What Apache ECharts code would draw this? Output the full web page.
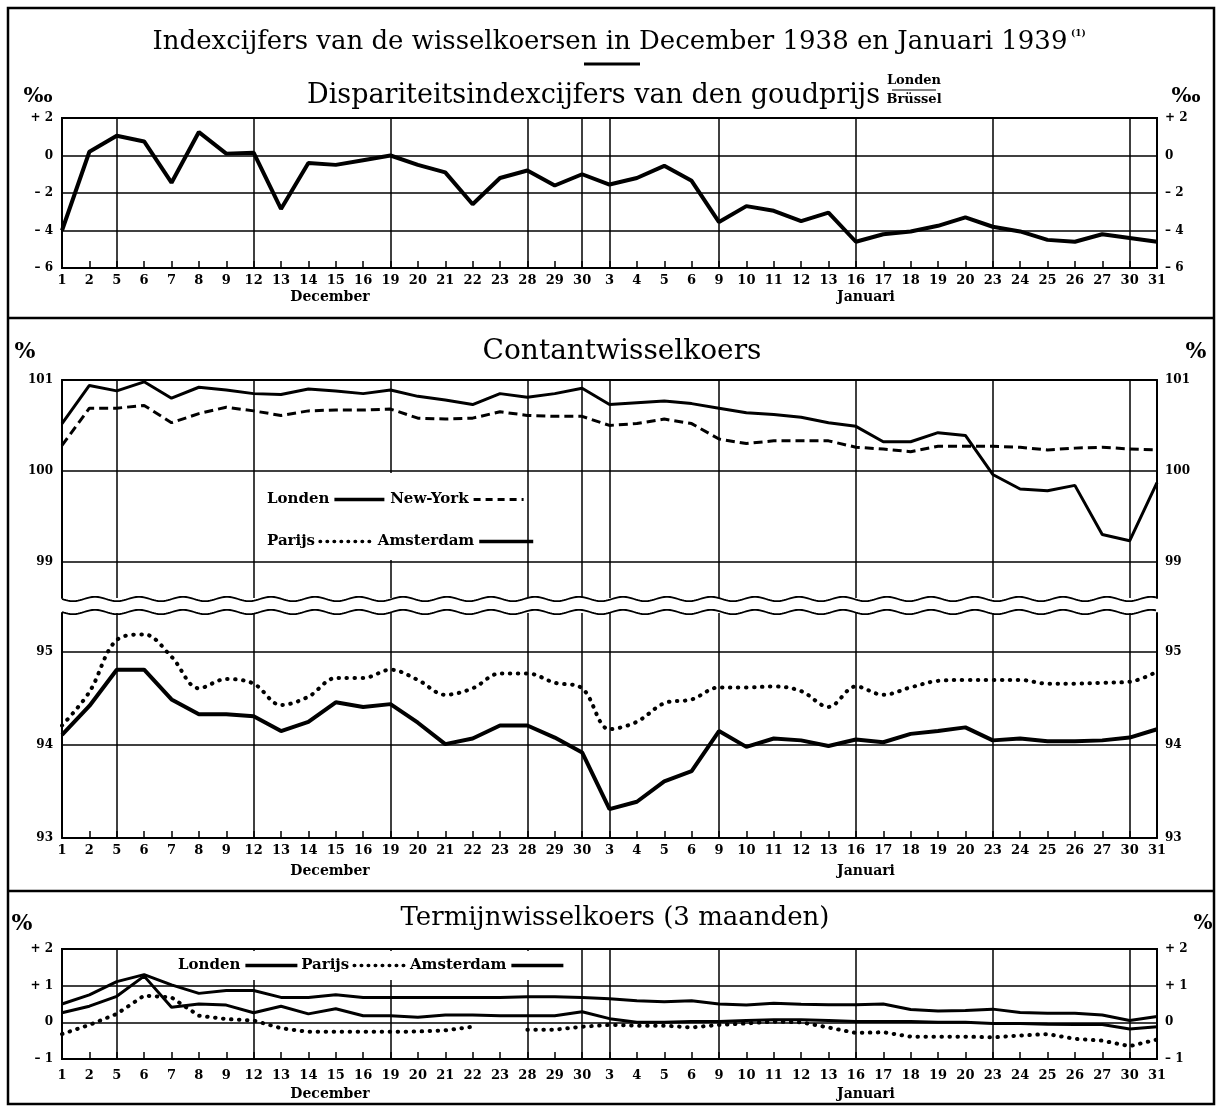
<!DOCTYPE html>
<html><head><meta charset="utf-8">
<script src="https://cdn.jsdelivr.net/npm/echarts@6.0.0/dist/echarts.min.js"></script>
<style>html,body{margin:0;padding:0;background:#fff}#c{width:1221px;height:1109px}</style>
</head><body><div id="c"></div>
<script>
// ---- categories (trading days) ----
const decDays = [1,2,5,6,7,8,9,12,13,14,15,16,19,20,21,22,23,28,29,30];
const janDays = [3,4,5,6,9,10,11,12,13,16,17,18,19,20,23,24,25,26,27,30,31];
const categories = decDays.map(d => 'Dec ' + d).concat(janDays.map(d => 'Jan ' + d));
const weekStarts = ['Dec 5','Dec 12','Dec 19','Dec 28','Dec 30','Jan 3','Jan 9','Jan 16','Jan 23','Jan 30'];

// ---- Dispariteitsindexcijfers van den goudprijs Londen/Brussel (per mille) ----
const goudDisparity = [-4.0,0.2,1.05,0.75,-1.45,1.25,0.1,0.15,-2.85,-0.4,-0.5,-0.25,0.0,-0.5,-0.9,-2.6,-1.2,-0.8,-1.6,-1.0,
  -1.55,-1.2,-0.55,-1.35,-3.55,-2.7,-2.95,-3.5,-3.05,-4.6,-4.2,-4.05,-3.75,-3.3,-3.8,-4.05,-4.5,-4.6,-4.2,-4.4,-4.6];

// ---- Contantwisselkoers (%) ----
const contantLonden = [100.52,100.94,100.88,100.98,100.8,100.92,100.89,100.85,100.84,100.9,100.88,100.85,100.89,100.82,100.78,100.73,100.85,100.81,100.85,100.91,
  100.73,100.75,100.77,100.74,100.69,100.64,100.62,100.59,100.53,100.49,100.32,100.32,100.42,100.39,99.96,99.8,99.78,99.84,99.3,99.23,99.87];
const contantNewYork = [100.28,100.69,100.69,100.72,100.53,100.63,100.7,100.66,100.61,100.66,100.67,100.67,100.68,100.58,100.57,100.58,100.65,100.61,100.6,100.6,
  100.5,100.52,100.57,100.52,100.35,100.3,100.33,100.33,100.33,100.26,100.24,100.21,100.27,100.27,100.27,100.26,100.23,100.25,100.26,100.24,100.23];
const contantParijs = [94.21,94.57,95.13,95.19,94.95,94.61,94.71,94.66,94.43,94.52,94.72,94.72,94.81,94.7,94.54,94.61,94.77,94.77,94.67,94.61,
  94.17,94.25,94.45,94.49,94.62,94.62,94.63,94.58,94.41,94.63,94.54,94.62,94.69,94.7,94.7,94.7,94.66,94.66,94.67,94.68,94.79];
const contantAmsterdam = [94.11,94.42,94.81,94.81,94.49,94.33,94.33,94.31,94.15,94.25,94.46,94.41,94.44,94.24,94.01,94.07,94.21,94.21,94.08,93.92,
  93.31,93.39,93.61,93.72,94.15,93.98,94.07,94.05,93.99,94.06,94.03,94.12,94.15,94.19,94.05,94.07,94.04,94.04,94.05,94.08,94.17];

// ---- Termijnwisselkoers 3 maanden (%) ----
const termijnLonden = [0.5,0.75,1.11,1.3,1.02,0.79,0.87,0.87,0.68,0.68,0.75,0.68,0.68,0.68,0.68,0.68,0.68,0.7,0.7,0.68,
  0.64,0.59,0.56,0.59,0.5,0.47,0.52,0.49,0.48,0.48,0.5,0.35,0.31,0.32,0.36,0.27,0.25,0.25,0.2,0.05,0.16];
const termijnParijs = [-0.32,-0.07,0.23,0.73,0.68,0.18,0.09,0.05,-0.16,-0.26,-0.26,-0.26,-0.26,-0.25,-0.22,-0.12,null,-0.2,-0.2,-0.12,
  -0.07,-0.09,-0.09,-0.14,-0.07,-0.03,0.02,0.0,-0.14,-0.29,-0.27,-0.39,-0.39,-0.39,-0.41,-0.36,-0.32,-0.45,-0.5,-0.65,-0.47];
const termijnAmsterdam = [0.26,0.44,0.71,1.26,0.41,0.5,0.47,0.26,0.44,0.23,0.37,0.18,0.18,0.14,0.2,0.2,0.18,0.18,0.18,0.29,
  0.1,0.0,0.0,0.02,0.02,0.05,0.07,0.07,0.05,0.02,0.02,0.02,0.0,0.0,-0.03,-0.03,-0.05,-0.06,-0.06,-0.18,-0.12];

// ---- tick labels ----
const topTicks = [-6,-4,-2,0,2];
const midUpperTicks = [99,100,101];
const midLowerTicks = [93,94,95];
const bottomTicks = [-1,0,1,2];

const serif = '"DejaVu Serif", "Liberation Serif", serif';
const weekSet = new Set(weekStarts.map(k => categories.indexOf(k)));
const dayLabel = v => v.split(' ')[1];
const signed = v => v > 0 ? '+ ' + v : (v < 0 ? '\u2013 ' + (-v) : '0');
const intOnly = v => Math.abs(v - Math.round(v)) < 1e-6 ? String(Math.round(v)) : '';

function xAxisCfg(gridIndex, extra) {
  return Object.assign({
    type: 'category', gridIndex, data: categories, boundaryGap: false,
    axisLine: {show: true, onZero: false, lineStyle: {color: '#000', width: 2}},
    axisTick: {show: true, inside: true, length: 7, interval: 0, lineStyle: {color: '#000', width: 1.5}},
    axisLabel: {show: true, interval: 0, margin: 6, color: '#000', fontFamily: serif, fontWeight: 'bold', fontSize: 13, formatter: dayLabel},
    splitLine: {show: true, interval: (i) => weekSet.has(i), lineStyle: {color: '#000', width: 1.5}}
  }, extra || {});
}
function yAxisCfg(gridIndex, position, min, max, ticks, fmt, split, interval) {
  const ax = {
    type: 'value', gridIndex, position, min, max,
    axisLine: {show: true, onZero: false, lineStyle: {color: '#000', width: 2}},
    axisTick: {show: false},
    axisLabel: {show: true, margin: position === 'left' ? 9 : 8, color: '#000', fontFamily: serif, fontWeight: 'bold', fontSize: 12, formatter: fmt},
    splitLine: {show: !!split, lineStyle: {color: '#000', width: 1.5}}
  };
  if (interval) ax.interval = interval; else ax.axisLabel.customValues = ticks;
  return ax;
}

const lineS = (name, data, xi, yi, style, extra) => Object.assign({
  name, type: 'line', data, xAxisIndex: xi, yAxisIndex: yi, symbol: 'none', z: 3,
  connectNulls: false, silent: true, itemStyle: {color: '#000'},
  lineStyle: Object.assign({color: '#000'}, style)
}, extra || {});

const dotted = {width: 4, type: [0.5, 7.5], cap: 'round'};
const solidLeg = {color: '#000', width: 3.5, type: 'solid'};
const dashLeg = {color: '#000', width: 3, type: [7, 5]};
const dotLeg = {color: '#000', width: 3.5, type: [0.5, 6.5], cap: 'round'};
const legText = {fontFamily: serif, fontWeight: 'bold', fontSize: 15, color: '#000'};

function wave(y0) {
  const pts = [];
  for (let x = 62; x <= 1157; x += 2) pts.push([x, y0 + 2.2 * Math.sin((x - 62) / 44 * 2 * Math.PI)]);
  return {type: 'polyline', shape: {points: pts}, style: {stroke: '#000', lineWidth: 1.8, fill: null}, z: 5};
}
const txt = (text, x, y, font, align) => ({type: 'text', z: 30, style: {text, x, y, font, fill: '#000', textAlign: align || 'center', textVerticalAlign: 'middle'}});

const option = {
  animation: false,
  backgroundColor: '#fff',
  grid: [
    {left: 62, width: 1095, top: 118, height: 150, show: true, borderColor: '#000', borderWidth: 2},
    {left: 62, width: 1095, top: 380, height: 218},
    {left: 62, width: 1095, top: 613, height: 225},
    {left: 62, width: 1095, top: 949, height: 110, show: true, borderColor: '#000', borderWidth: 2}
  ],
  xAxis: [
    xAxisCfg(0),
    xAxisCfg(1, {position: 'top', axisTick: {show: false}, axisLabel: {show: false}}),
    xAxisCfg(2),
    xAxisCfg(3, {axisLabel: {show: true, interval: 0, margin: 10, color: '#000', fontFamily: serif, fontWeight: 'bold', fontSize: 13, formatter: dayLabel}})
  ],
  yAxis: [
    yAxisCfg(0, 'left', -6, 2, topTicks, signed, true, 2),
    yAxisCfg(0, 'right', -6, 2, topTicks, signed, false, 2),
    yAxisCfg(1, 'left', 98.6, 101, midUpperTicks, intOnly, false),
    yAxisCfg(1, 'right', 98.6, 101, midUpperTicks, intOnly, false),
    yAxisCfg(2, 'left', 93, 95.42, midLowerTicks, intOnly, false),
    yAxisCfg(2, 'right', 93, 95.42, midLowerTicks, intOnly, false),
    yAxisCfg(3, 'left', -1, 2, bottomTicks, signed, true, 1),
    yAxisCfg(3, 'right', -1, 2, bottomTicks, signed, false, 1)
  ],
  legend: [
    {left: 262, top: 487, align: 'right', itemWidth: 50, itemHeight: 14, itemGap: 4, z: 20,
     itemStyle: {opacity: 0, borderWidth: 0}, textStyle: legText,
     data: [{name: 'Londen', lineStyle: solidLeg}, {name: 'New-York', lineStyle: dashLeg}]},
    {left: 262, top: 529, align: 'right', itemWidth: 54, itemHeight: 14, itemGap: 2, z: 20,
     itemStyle: {opacity: 0, borderWidth: 0}, textStyle: legText,
     data: [{name: 'Parijs', lineStyle: dotLeg}, {name: 'Amsterdam', lineStyle: solidLeg}]},
    {left: 172, top: 951, align: 'right', itemWidth: 52, itemHeight: 14, itemGap: 2, z: 20,
     padding: [7, 6, 7, 6], backgroundColor: '#fff',
     itemStyle: {opacity: 0, borderWidth: 0}, textStyle: legText,
     data: [{name: 'Londen', lineStyle: solidLeg}, {name: 'Parijs', lineStyle: dotLeg}, {name: 'Amsterdam', lineStyle: solidLeg}]}
  ],
  series: [
    lineS('Dispariteit goudprijs', goudDisparity, 0, 0, {width: 4}),
    lineS('Londen', contantLonden, 1, 2, {width: 3}, {
      markLine: {silent: true, symbol: ['none', 'none'], label: {show: false}, z: 1,
        lineStyle: {color: '#000', type: 'solid', width: 1.5}, data: midUpperTicks.filter(v => v < 101).map(v => ({yAxis: v}))}
    }),
    lineS('New-York', contantNewYork, 1, 2, {width: 3, type: [9, 5]}),
    lineS('Parijs', contantParijs, 2, 4, dotted, {smooth: 0.35}),
    lineS('Amsterdam', contantAmsterdam, 2, 4, {width: 4}, {
      markLine: {silent: true, symbol: ['none', 'none'], label: {show: false}, z: 1,
        lineStyle: {color: '#000', type: 'solid', width: 1.5}, data: midLowerTicks.filter(v => v > 93).map(v => ({yAxis: v}))}
    }),
    lineS('Londen', termijnLonden, 3, 6, {width: 3}),
    lineS('Parijs', termijnParijs, 3, 6, dotted),
    lineS('Amsterdam', termijnAmsterdam, 3, 6, {width: 3})
  ],
  graphic: [
    {type: 'rect', z: 30, shape: {x: 8, y: 8, width: 1206, height: 1096}, style: {fill: null, stroke: '#000', lineWidth: 2.5}},
    {type: 'line', z: 30, shape: {x1: 8, y1: 318, x2: 1214, y2: 318}, style: {stroke: '#000', lineWidth: 2.5}},
    {type: 'line', z: 30, shape: {x1: 8, y1: 891, x2: 1214, y2: 891}, style: {stroke: '#000', lineWidth: 2.5}},
    txt('Indexcijfers van de wisselkoersen in December 1938 en Januari 1939', 610, 42, '26px ' + serif),
    txt('(1)', 1071, 34, 'bold 9px ' + serif, 'left'),
    {type: 'line', z: 30, shape: {x1: 584, y1: 64, x2: 640, y2: 64}, style: {stroke: '#000', lineWidth: 3}},
    txt('Dispariteitsindexcijfers van den goudprijs', 880, 96, '27px ' + serif, 'right'),
    txt('Londen', 914, 81, 'bold 13px ' + serif),
    {type: 'line', z: 30, shape: {x1: 892, y1: 90, x2: 936, y2: 90}, style: {stroke: '#000', lineWidth: 1.2}},
    txt('Brüssel', 914, 100, 'bold 13px ' + serif),
    txt('\u2030', 38, 97, 'bold 21px ' + serif),
    txt('\u2030', 1186, 97, 'bold 21px ' + serif),
    txt('December', 330, 297, 'bold 14px ' + serif),
    txt('Januari', 866, 297, 'bold 14px ' + serif),
    txt('Contantwisselkoers', 622, 352, '28px ' + serif),
    txt('%', 25, 352, 'bold 22px ' + serif),
    txt('%', 1196, 352, 'bold 22px ' + serif),
    {type: 'rect', z: 10, shape: {x: 256, y: 473, width: 270, height: 87}, style: {fill: '#fff'}},
    wave(599),
    wave(612),
    txt('December', 330, 871, 'bold 14px ' + serif),
    txt('Januari', 866, 871, 'bold 14px ' + serif),
    txt('Termijnwisselkoers (3 maanden)', 615, 918, '26px ' + serif),
    txt('%', 22, 924, 'bold 22px ' + serif),
    txt('%', 1203, 924, 'bold 20px ' + serif),
    txt('December', 330, 1094, 'bold 14px ' + serif),
    txt('Januari', 866, 1094, 'bold 14px ' + serif)
  ]
};
const chart = echarts.init(document.getElementById('c'));
chart.setOption(option);
</script>
</body></html>
